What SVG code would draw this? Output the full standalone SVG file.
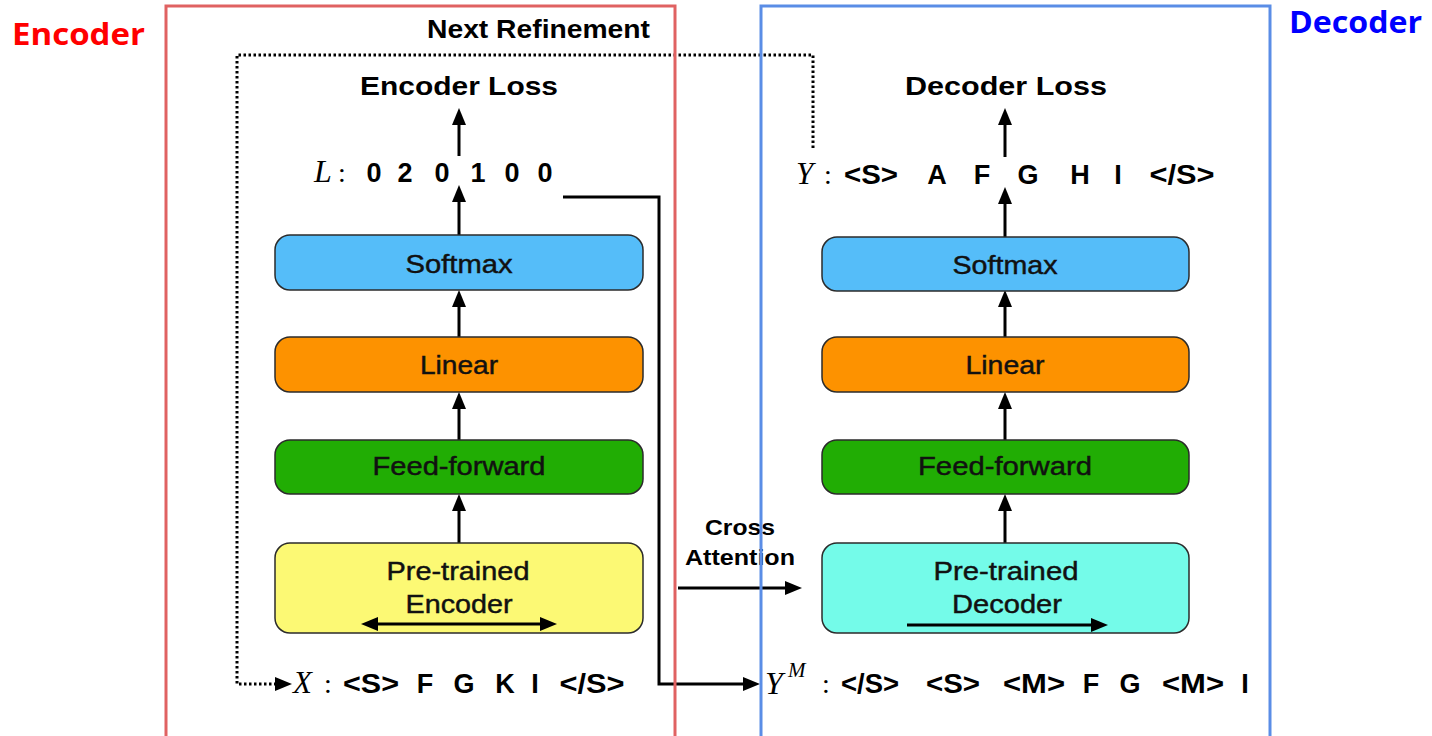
<svg xmlns="http://www.w3.org/2000/svg" width="1432" height="736" viewBox="0 0 1432 736">
  <defs>
    <style>
      .box { stroke: #2b2b2b; stroke-width: 1.5; }
      .softmax { fill: #55bdf9; }
      .linear { fill: #fd9200; }
      .ff { fill: #21ad04; }
      .enc { fill: #fcf974; }
      .dec { fill: #74fbe9; }
      .lbl { font-family: "Liberation Sans", Arial, sans-serif; font-size: 26px; fill: #111; stroke: #111; stroke-width: 0.45; text-anchor: middle; }
      .bold { font-family: "Liberation Sans", Arial, sans-serif; font-weight: bold; fill: #000; }
      .tok { font-family: "Liberation Sans", Arial, sans-serif; font-weight: bold; font-size: 27px; fill: #000; text-anchor: middle; }
      .var { font-family: "Liberation Serif", "Times New Roman", serif; font-style: italic; fill: #000; }
      .colon { font-family: "Liberation Serif", "Times New Roman", serif; font-size: 28px; fill: #000; text-anchor: middle; }
      .wire { fill: none; stroke: #000; stroke-width: 3; }
      .dots { fill: none; stroke: #000; stroke-width: 3; stroke-dasharray: 2.5 2.5; }
      .frame { fill: none; stroke-width: 3; }
      .side { font-family: "Open Sans", "Noto Sans", sans-serif; font-weight: bold; font-size: 31px; }
    </style>
    <marker id="head" viewBox="0 0 17 14" refX="2" refY="7" markerWidth="17" markerHeight="14" markerUnits="userSpaceOnUse" orient="auto-start-reverse">
      <path d="M0,0 L17,7 L0,14 z" fill="#000" stroke="none"/>
    </marker>
  </defs>

  <rect width="1432" height="736" fill="#fff"/>

  <!-- side titles -->
  <text class="side" x="12" y="45" fill="#ff0000" textLength="133" lengthAdjust="spacingAndGlyphs">Encoder</text>
  <text class="side" x="1289" y="33" fill="#0000ff" textLength="133" lengthAdjust="spacingAndGlyphs">Decoder</text>

  <!-- connectors -->
  <g id="connectors">
    <!-- encoder stack -->
    <path class="wire" d="M459,543 V509" marker-end="url(#head)"/>
    <path class="wire" d="M459,440 V407" marker-end="url(#head)"/>
    <path class="wire" d="M459,337 V305" marker-end="url(#head)"/>
    <path class="wire" d="M459,235 V200" marker-end="url(#head)"/>
    <path class="wire" d="M459,156 V123" marker-end="url(#head)"/>
    <!-- decoder stack -->
    <path class="wire" d="M1005,543 V509" marker-end="url(#head)"/>
    <path class="wire" d="M1005,440 V407" marker-end="url(#head)"/>
    <path class="wire" d="M1005,337 V305" marker-end="url(#head)"/>
    <path class="wire" d="M1005,237 V202" marker-end="url(#head)"/>
    <path class="wire" d="M1005,157 V123" marker-end="url(#head)"/>
    <!-- labels L feed the masked decoder input -->
    <path class="wire" d="M563,197 H659 V684 H745" marker-end="url(#head)"/>
    <!-- cross attention -->
    <path class="wire" d="M678,588 H787" marker-end="url(#head)"/>
    <!-- next refinement loop -->
    <path class="dots" d="M813,148 V55 H237 V684 H277" marker-end="url(#head)"/>
  </g>

  <text class="bold" x="427" y="38" font-size="25" textLength="223" lengthAdjust="spacingAndGlyphs">Next Refinement</text>
  <text class="bold" x="705" y="535" font-size="22" textLength="70" lengthAdjust="spacingAndGlyphs">Cross</text>
  <text class="bold" x="685" y="565" font-size="22" textLength="110" lengthAdjust="spacingAndGlyphs">Attention</text>

  <!-- encoder column -->
  <g id="encoder-loss">
    <text class="bold" x="360" y="95" font-size="25" textLength="198" lengthAdjust="spacingAndGlyphs">Encoder Loss</text>
  </g>
  <g id="encoder-labels">
    <text class="var" x="314" y="182" font-size="32">L</text>
    <text class="colon" x="342" y="182">:</text>
    <text class="tok" x="374" y="182">0</text>
    <text class="tok" x="405" y="182">2</text>
    <text class="tok" x="442" y="182">0</text>
    <text class="tok" x="478" y="182">1</text>
    <text class="tok" x="512" y="182">0</text>
    <text class="tok" x="545" y="182">0</text>
  </g>
  <g id="encoder-softmax">
    <rect class="box softmax" x="275" y="235" width="368" height="55" rx="15"/>
    <text class="lbl" x="459" y="273" textLength="107" lengthAdjust="spacingAndGlyphs">Softmax</text>
  </g>
  <g id="encoder-linear">
    <rect class="box linear" x="275" y="337" width="368" height="55" rx="15"/>
    <text class="lbl" x="459" y="374" textLength="78" lengthAdjust="spacingAndGlyphs">Linear</text>
  </g>
  <g id="encoder-feedforward">
    <rect class="box ff" x="275" y="440" width="368" height="54" rx="15"/>
    <text class="lbl" x="459" y="475" textLength="173" lengthAdjust="spacingAndGlyphs">Feed-forward</text>
  </g>
  <g id="pretrained-encoder">
    <rect class="box enc" x="275" y="543" width="368" height="90" rx="15"/>
    <text class="lbl" x="458" y="580" textLength="143" lengthAdjust="spacingAndGlyphs">Pre-trained</text>
    <text class="lbl" x="459" y="613" textLength="107" lengthAdjust="spacingAndGlyphs">Encoder</text>
    <path class="wire" d="M376,624 H542" marker-start="url(#head)" marker-end="url(#head)"/>
  </g>
  <g id="encoder-input">
    <text class="var" x="293" y="693" font-size="31">X</text>
    <text class="colon" x="328" y="693">:</text>
    <text class="tok" x="371" y="693" textLength="56" lengthAdjust="spacingAndGlyphs">&lt;S&gt;</text>
    <text class="tok" x="425" y="693">F</text>
    <text class="tok" x="464" y="693">G</text>
    <text class="tok" x="505" y="693">K</text>
    <text class="tok" x="535" y="693">I</text>
    <text class="tok" x="592" y="693" textLength="65" lengthAdjust="spacingAndGlyphs">&lt;/S&gt;</text>
  </g>

  <!-- decoder column -->
  <g id="decoder-loss">
    <text class="bold" x="905" y="95" font-size="25" textLength="202" lengthAdjust="spacingAndGlyphs">Decoder Loss</text>
  </g>
  <g id="decoder-targets">
    <text class="var" x="796" y="184" font-size="31">Y</text>
    <text class="colon" x="828" y="184">:</text>
    <text class="tok" x="871" y="184" textLength="54" lengthAdjust="spacingAndGlyphs">&lt;S&gt;</text>
    <text class="tok" x="937" y="184">A</text>
    <text class="tok" x="982" y="184">F</text>
    <text class="tok" x="1028" y="184">G</text>
    <text class="tok" x="1080" y="184">H</text>
    <text class="tok" x="1118" y="184">I</text>
    <text class="tok" x="1182" y="184" textLength="65" lengthAdjust="spacingAndGlyphs">&lt;/S&gt;</text>
  </g>
  <g id="decoder-softmax">
    <rect class="box softmax" x="822" y="237" width="367" height="54" rx="15"/>
    <text class="lbl" x="1005" y="274" textLength="105" lengthAdjust="spacingAndGlyphs">Softmax</text>
  </g>
  <g id="decoder-linear">
    <rect class="box linear" x="822" y="337" width="367" height="55" rx="15"/>
    <text class="lbl" x="1005" y="374" textLength="79" lengthAdjust="spacingAndGlyphs">Linear</text>
  </g>
  <g id="decoder-feedforward">
    <rect class="box ff" x="822" y="440" width="367" height="54" rx="15"/>
    <text class="lbl" x="1005" y="475" textLength="174" lengthAdjust="spacingAndGlyphs">Feed-forward</text>
  </g>
  <g id="pretrained-decoder">
    <rect class="box dec" x="822" y="543" width="367" height="90" rx="15"/>
    <text class="lbl" x="1006" y="580" textLength="145" lengthAdjust="spacingAndGlyphs">Pre-trained</text>
    <text class="lbl" x="1007" y="613" textLength="110" lengthAdjust="spacingAndGlyphs">Decoder</text>
    <path class="wire" d="M907,625 H1093" marker-end="url(#head)"/>
  </g>
  <g id="decoder-input">
    <text class="var" x="765" y="694" font-size="32">Y</text>
    <text class="var" x="788" y="677" font-size="21">M</text>
    <text class="colon" x="826" y="693">:</text>
    <text class="tok" x="870" y="693" textLength="58" lengthAdjust="spacingAndGlyphs">&lt;/S&gt;</text>
    <text class="tok" x="953" y="693" textLength="54" lengthAdjust="spacingAndGlyphs">&lt;S&gt;</text>
    <text class="tok" x="1034" y="693" textLength="62" lengthAdjust="spacingAndGlyphs">&lt;M&gt;</text>
    <text class="tok" x="1091" y="693">F</text>
    <text class="tok" x="1130" y="693">G</text>
    <text class="tok" x="1193" y="693" textLength="62" lengthAdjust="spacingAndGlyphs">&lt;M&gt;</text>
    <text class="tok" x="1245" y="693">I</text>
  </g>

  <!-- encoder / decoder frames -->
  <g id="frames">
    <rect class="frame" x="166" y="6" width="509" height="740" stroke="#e06262"/>
    <rect class="frame" x="761" y="6" width="509" height="740" stroke="#5a8de6"/>
  </g>
</svg>
